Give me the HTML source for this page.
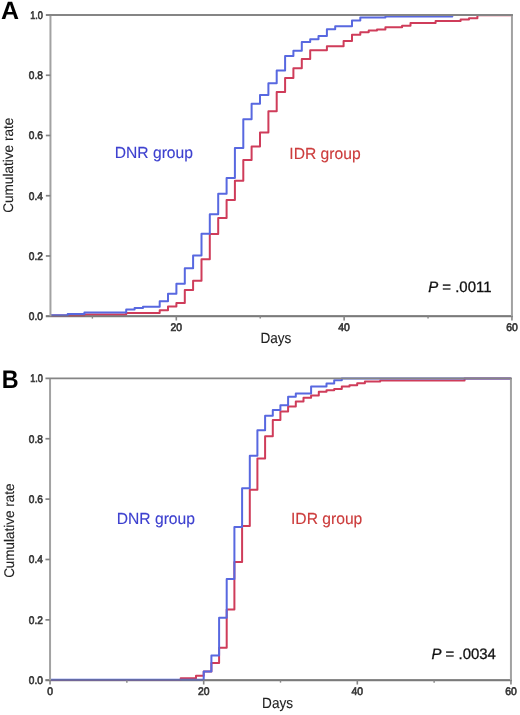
<!DOCTYPE html>
<html><head><meta charset="utf-8"><style>
html,body{margin:0;padding:0;background:#fff;}
body{width:520px;height:715px;overflow:hidden;}
svg{display:block;filter:blur(0.3px);text-rendering:geometricPrecision;font-family:"Liberation Sans",sans-serif;}
.tk{font-size:11px;fill:#363636;stroke:#363636;stroke-width:0.65px;}
.lg{font-size:15.2px;stroke-width:0.12px;}
.pv{font-size:14.5px;fill:#111;stroke:#111;stroke-width:0.3px;}
.ax{font-size:13.6px;fill:#222;stroke:#222;stroke-width:0.1px;}
.big{font-size:24px;font-weight:bold;fill:#000;}
</style></head><body>
<svg width="520" height="715" viewBox="0 0 520 715">
<rect width="520" height="715" fill="#fff"/>
<line x1="45.85" y1="316.2" x2="512.95" y2="316.2" stroke="#858585" stroke-width="1.9"/>
<path d="M50.5,315.6H84.4V314.5H126.2V312.9H159.7V310.3H168.0V306.5H176.4V303.1H184.8V290.0H193.1V280.8H201.5V259.2H209.8V233.9H218.2V217.9H226.6V200.0H234.9V180.8H243.3V160.0H251.6V146.5H260.0V132.6H268.4V111.3H276.7V92.0H285.1V78.1H293.4V68.2H301.8V59.1H310.2V50.2H326.9V46.3H343.6V41.1H352.0V34.7H360.3V32.3H368.7V30.6H377.0V29.6H385.4V27.2H402.1V25.8H410.5V23.1H435.6V20.9H460.6V19.5H469.0V18.3H477.4V15.3H511.9" fill="none" stroke="#cf3c5a" stroke-width="2" stroke-linejoin="round"/>
<path d="M50.5,315.3H67.7V313.9H84.4V312.6H126.2V309.6H134.6V307.9H143.0V306.8H159.7V301.2H168.0V293.8H176.4V283.8H184.8V268.2H193.1V255.4H201.5V233.7H209.8V214.2H218.2V193.8H226.6V177.9H234.9V148.0H243.3V119.3H251.6V103.7H260.0V94.9H268.4V83.3H276.7V70.5H285.1V56.0H293.4V50.7H301.8V41.9H310.2V39.2H318.5V35.9H326.9V29.2H335.2V26.3H352.0V20.4H360.3V17.4H385.4V16.4H452.3V15.0H511.9" fill="none" stroke="#5868e0" stroke-width="2" stroke-linejoin="round"/>
<line x1="45.85" y1="315.90" x2="512.95" y2="315.90" stroke="#707070" stroke-width="2" stroke-opacity="0.5"/>
<line x1="50.45" y1="316.2" x2="50.45" y2="15.0" stroke="#a2a2a2" stroke-width="2"/>
<line x1="511.95" y1="316.2" x2="511.95" y2="15.0" stroke="#a2a2a2" stroke-width="2"/>
<line x1="45.85" y1="15.0" x2="512.95" y2="15.0" stroke="#858585" stroke-width="1.9"/>
<text transform="translate(42.90,320.15) scale(0.92,1.0)" class="tk" text-anchor="end">0.0</text>
<line x1="45.85" y1="255.96" x2="50.45" y2="255.96" stroke="#858585" stroke-width="1.7"/>
<text transform="translate(42.90,259.91) scale(0.92,1.0)" class="tk" text-anchor="end">0.2</text>
<line x1="45.85" y1="195.72" x2="50.45" y2="195.72" stroke="#858585" stroke-width="1.7"/>
<text transform="translate(42.90,199.67) scale(0.92,1.0)" class="tk" text-anchor="end">0.4</text>
<line x1="45.85" y1="135.48" x2="50.45" y2="135.48" stroke="#858585" stroke-width="1.7"/>
<text transform="translate(42.90,139.43) scale(0.92,1.0)" class="tk" text-anchor="end">0.6</text>
<line x1="45.85" y1="75.24" x2="50.45" y2="75.24" stroke="#858585" stroke-width="1.7"/>
<text transform="translate(42.90,79.19) scale(0.92,1.0)" class="tk" text-anchor="end">0.8</text>
<text transform="translate(42.90,18.95) scale(0.83,1.0)" class="tk" text-anchor="end">1.0</text>
<line x1="176.31" y1="316.2" x2="176.31" y2="320.50" stroke="#858585" stroke-width="1.6"/>
<text transform="translate(176.31,331.30) scale(0.94,1.0)" class="tk" text-anchor="middle">20</text>
<line x1="344.13" y1="316.2" x2="344.13" y2="320.50" stroke="#858585" stroke-width="1.6"/>
<text transform="translate(344.13,331.30) scale(0.94,1.0)" class="tk" text-anchor="middle">40</text>
<line x1="511.95" y1="316.2" x2="511.95" y2="320.50" stroke="#858585" stroke-width="1.6"/>
<text transform="translate(511.95,331.30) scale(0.94,1.0)" class="tk" text-anchor="middle">60</text>
<line x1="92.40" y1="316.2" x2="92.40" y2="318.60" stroke="#858585" stroke-width="1.4"/>
<line x1="260.22" y1="316.2" x2="260.22" y2="318.60" stroke="#858585" stroke-width="1.4"/>
<line x1="428.04" y1="316.2" x2="428.04" y2="318.60" stroke="#858585" stroke-width="1.4"/>
<text transform="translate(114.70,158.30) scale(1.03,1.06)" class="lg" fill="#3d40cf" stroke="#3d40cf">DNR group</text>
<text transform="translate(289.30,158.70) scale(1.03,1.06)" class="lg" fill="#cc3c3c" stroke="#cc3c3c">IDR group</text>
<text transform="translate(428.20,292.00) scale(1.03,1.04)" class="pv"><tspan font-style="italic">P</tspan> = .0011</text>
<text transform="translate(12.55,165.25) rotate(-90) scale(1.0,1.03)" class="ax" text-anchor="middle">Cumulative rate</text>
<text transform="translate(275.90,342.60) scale(1.0,1.09)" class="ax" text-anchor="middle">Days</text>
<text transform="translate(1.00,18.50) scale(1.04,1.045)" class="big">A</text>
<line x1="45.45" y1="680.25" x2="511.95" y2="680.25" stroke="#858585" stroke-width="1.9"/>
<path d="M50.0,680.0H180.7V678.2H196.0V675.7H203.7V671.6H211.4V663.0H219.1V647.7H226.7V609.4H234.4V562.0H242.1V526.0H249.8V489.8H257.4V458.5H265.1V436.2H272.8V420.0H280.4V411.5H288.1V406.4H295.8V401.5H303.5V397.8H311.1V395.4H318.8V391.7H326.5V390.2H334.2V389.0H341.8V386.6H349.5V385.2H357.2V383.3H364.9V381.4H380.2V380.4H464.6V378.5H510.9" fill="none" stroke="#cf3c5a" stroke-width="2" stroke-linejoin="round"/>
<path d="M50.0,679.8H203.7V671.4H211.4V655.5H219.1V617.8H226.7V579.0H234.4V527.0H242.1V488.3H249.8V455.8H257.4V430.3H265.1V415.8H272.8V410.0H280.4V405.3H288.1V396.7H295.8V393.5H311.1V386.6H326.5V383.5H334.2V380.3H341.8V378.5H510.9" fill="none" stroke="#5868e0" stroke-width="2" stroke-linejoin="round"/>
<line x1="45.45" y1="679.95" x2="511.95" y2="679.95" stroke="#707070" stroke-width="2" stroke-opacity="0.5"/>
<line x1="50.05" y1="680.25" x2="50.05" y2="378.35" stroke="#a2a2a2" stroke-width="2"/>
<line x1="510.95" y1="680.25" x2="510.95" y2="378.35" stroke="#a2a2a2" stroke-width="2"/>
<line x1="45.45" y1="378.35" x2="511.95" y2="378.35" stroke="#858585" stroke-width="1.9"/>
<text transform="translate(42.90,684.20) scale(0.92,1.0)" class="tk" text-anchor="end">0.0</text>
<line x1="45.45" y1="619.87" x2="50.05" y2="619.87" stroke="#858585" stroke-width="1.7"/>
<text transform="translate(42.90,623.82) scale(0.92,1.0)" class="tk" text-anchor="end">0.2</text>
<line x1="45.45" y1="559.49" x2="50.05" y2="559.49" stroke="#858585" stroke-width="1.7"/>
<text transform="translate(42.90,563.44) scale(0.92,1.0)" class="tk" text-anchor="end">0.4</text>
<line x1="45.45" y1="499.11" x2="50.05" y2="499.11" stroke="#858585" stroke-width="1.7"/>
<text transform="translate(42.90,503.06) scale(0.92,1.0)" class="tk" text-anchor="end">0.6</text>
<line x1="45.45" y1="438.73" x2="50.05" y2="438.73" stroke="#858585" stroke-width="1.7"/>
<text transform="translate(42.90,442.68) scale(0.92,1.0)" class="tk" text-anchor="end">0.8</text>
<text transform="translate(42.90,382.30) scale(0.83,1.0)" class="tk" text-anchor="end">1.0</text>
<line x1="50.05" y1="680.25" x2="50.05" y2="684.55" stroke="#858585" stroke-width="1.6"/>
<text transform="translate(50.05,695.35) scale(0.94,1.0)" class="tk" text-anchor="middle">0</text>
<line x1="203.68" y1="680.25" x2="203.68" y2="684.55" stroke="#858585" stroke-width="1.6"/>
<text transform="translate(203.68,695.35) scale(0.94,1.0)" class="tk" text-anchor="middle">20</text>
<line x1="357.32" y1="680.25" x2="357.32" y2="684.55" stroke="#858585" stroke-width="1.6"/>
<text transform="translate(357.32,695.35) scale(0.94,1.0)" class="tk" text-anchor="middle">40</text>
<line x1="510.95" y1="680.25" x2="510.95" y2="684.55" stroke="#858585" stroke-width="1.6"/>
<text transform="translate(510.95,695.35) scale(0.94,1.0)" class="tk" text-anchor="middle">60</text>
<line x1="126.87" y1="680.25" x2="126.87" y2="682.65" stroke="#858585" stroke-width="1.4"/>
<line x1="280.50" y1="680.25" x2="280.50" y2="682.65" stroke="#858585" stroke-width="1.4"/>
<line x1="434.13" y1="680.25" x2="434.13" y2="682.65" stroke="#858585" stroke-width="1.4"/>
<text transform="translate(116.70,524.10) scale(1.03,1.06)" class="lg" fill="#3d40cf" stroke="#3d40cf">DNR group</text>
<text transform="translate(291.00,524.00) scale(1.03,1.06)" class="lg" fill="#cc3c3c" stroke="#cc3c3c">IDR group</text>
<text transform="translate(431.50,658.50) scale(1.03,1.04)" class="pv"><tspan font-style="italic">P</tspan> = .0034</text>
<text transform="translate(14.40,530.70) rotate(-90) scale(0.991,1.03)" class="ax" text-anchor="middle">Cumulative rate</text>
<text transform="translate(277.60,708.40) scale(1.0,1.09)" class="ax" text-anchor="middle">Days</text>
<text transform="translate(1.75,388.20) scale(0.974,1.065)" class="big">B</text>
</svg>
</body></html>
